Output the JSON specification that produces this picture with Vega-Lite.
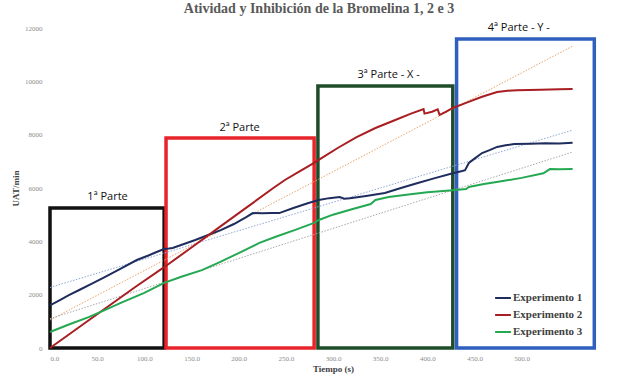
{
  "$schema": "https://vega.github.io/schema/vega-lite/v6.json",
  "autosize": "none",
  "width": 566,
  "height": 320,
  "padding": {"left": 50, "top": 28, "right": 13, "bottom": 36},
  "background": "white",
  "title": {
    "text": "Atividad y Inhibición de la Bromelina 1, 2 e 3",
    "font": "Liberation Serif",
    "fontSize": 14,
    "fontWeight": "bold",
    "color": "#595959",
    "anchor": "middle",
    "dx": -14,
    "offset": 6
  },
  "config": {
    "view": {"stroke": null},
    "axis": {"grid": false, "labelFont": "Liberation Serif", "labelColor": "#8c8c8c", "labelFontSize": 7, "titleFont": "Liberation Serif", "titleFontSize": 9, "titleFontWeight": "bold", "titleColor": "#404040", "ticks": false}
  },
  "datasets": {
    "series": [
      {"t": 0, "v": 1600, "s": "Experimento 1"}, {"t": 10, "v": 1790, "s": "Experimento 1"}, {"t": 20, "v": 1980, "s": "Experimento 1"}, {"t": 31, "v": 2175, "s": "Experimento 1"}, {"t": 45, "v": 2420, "s": "Experimento 1"}, {"t": 58, "v": 2660, "s": "Experimento 1"}, {"t": 75, "v": 2980, "s": "Experimento 1"}, {"t": 92, "v": 3300, "s": "Experimento 1"}, {"t": 105, "v": 3480, "s": "Experimento 1"}, {"t": 113, "v": 3600, "s": "Experimento 1"}, {"t": 121, "v": 3710, "s": "Experimento 1"}, {"t": 126, "v": 3730, "s": "Experimento 1"}, {"t": 130, "v": 3750, "s": "Experimento 1"}, {"t": 142, "v": 3900, "s": "Experimento 1"}, {"t": 154, "v": 4050, "s": "Experimento 1"}, {"t": 167, "v": 4230, "s": "Experimento 1"}, {"t": 181, "v": 4420, "s": "Experimento 1"}, {"t": 195, "v": 4650, "s": "Experimento 1"}, {"t": 208, "v": 4910, "s": "Experimento 1"}, {"t": 215, "v": 5060, "s": "Experimento 1"}, {"t": 225, "v": 5050, "s": "Experimento 1"}, {"t": 235, "v": 5060, "s": "Experimento 1"}, {"t": 243, "v": 5060, "s": "Experimento 1"}, {"t": 258, "v": 5250, "s": "Experimento 1"}, {"t": 274, "v": 5440, "s": "Experimento 1"}, {"t": 285, "v": 5550, "s": "Experimento 1"}, {"t": 296, "v": 5620, "s": "Experimento 1"}, {"t": 307, "v": 5660, "s": "Experimento 1"}, {"t": 312, "v": 5600, "s": "Experimento 1"}, {"t": 318, "v": 5620, "s": "Experimento 1"}, {"t": 335, "v": 5700, "s": "Experimento 1"}, {"t": 355, "v": 5810, "s": "Experimento 1"}, {"t": 372, "v": 6000, "s": "Experimento 1"}, {"t": 389, "v": 6180, "s": "Experimento 1"}, {"t": 408, "v": 6370, "s": "Experimento 1"}, {"t": 427, "v": 6550, "s": "Experimento 1"}, {"t": 437, "v": 6640, "s": "Experimento 1"}, {"t": 440, "v": 6670, "s": "Experimento 1"}, {"t": 444, "v": 6940, "s": "Experimento 1"}, {"t": 450, "v": 7100, "s": "Experimento 1"}, {"t": 458, "v": 7310, "s": "Experimento 1"}, {"t": 466, "v": 7420, "s": "Experimento 1"}, {"t": 474, "v": 7540, "s": "Experimento 1"}, {"t": 483, "v": 7600, "s": "Experimento 1"}, {"t": 492, "v": 7650, "s": "Experimento 1"}, {"t": 510, "v": 7660, "s": "Experimento 1"}, {"t": 525, "v": 7680, "s": "Experimento 1"}, {"t": 540, "v": 7670, "s": "Experimento 1"}, {"t": 554, "v": 7700, "s": "Experimento 1"},
      {"t": 0, "v": 0, "s": "Experimento 2"}, {"t": 30, "v": 760, "s": "Experimento 2"}, {"t": 60, "v": 1520, "s": "Experimento 2"}, {"t": 90, "v": 2280, "s": "Experimento 2"}, {"t": 121, "v": 3030, "s": "Experimento 2"}, {"t": 150, "v": 3770, "s": "Experimento 2"}, {"t": 180, "v": 4540, "s": "Experimento 2"}, {"t": 210, "v": 5310, "s": "Experimento 2"}, {"t": 236, "v": 5980, "s": "Experimento 2"}, {"t": 249, "v": 6300, "s": "Experimento 2"}, {"t": 265, "v": 6630, "s": "Experimento 2"}, {"t": 280, "v": 6940, "s": "Experimento 2"}, {"t": 287, "v": 7100, "s": "Experimento 2"}, {"t": 305, "v": 7500, "s": "Experimento 2"}, {"t": 325, "v": 7910, "s": "Experimento 2"}, {"t": 345, "v": 8250, "s": "Experimento 2"}, {"t": 366, "v": 8550, "s": "Experimento 2"}, {"t": 382, "v": 8780, "s": "Experimento 2"}, {"t": 396, "v": 8960, "s": "Experimento 2"}, {"t": 397, "v": 8790, "s": "Experimento 2"}, {"t": 405, "v": 8860, "s": "Experimento 2"}, {"t": 411, "v": 8950, "s": "Experimento 2"}, {"t": 413, "v": 8740, "s": "Experimento 2"}, {"t": 420, "v": 8860, "s": "Experimento 2"}, {"t": 427, "v": 9000, "s": "Experimento 2"}, {"t": 441, "v": 9190, "s": "Experimento 2"}, {"t": 458, "v": 9420, "s": "Experimento 2"}, {"t": 474, "v": 9600, "s": "Experimento 2"}, {"t": 485, "v": 9650, "s": "Experimento 2"}, {"t": 495, "v": 9670, "s": "Experimento 2"}, {"t": 520, "v": 9680, "s": "Experimento 2"}, {"t": 540, "v": 9700, "s": "Experimento 2"}, {"t": 554, "v": 9710, "s": "Experimento 2"},
      {"t": 0, "v": 600, "s": "Experimento 3"}, {"t": 20, "v": 880, "s": "Experimento 3"}, {"t": 41, "v": 1160, "s": "Experimento 3"}, {"t": 58, "v": 1420, "s": "Experimento 3"}, {"t": 75, "v": 1690, "s": "Experimento 3"}, {"t": 100, "v": 2070, "s": "Experimento 3"}, {"t": 121, "v": 2440, "s": "Experimento 3"}, {"t": 140, "v": 2680, "s": "Experimento 3"}, {"t": 161, "v": 2920, "s": "Experimento 3"}, {"t": 180, "v": 3220, "s": "Experimento 3"}, {"t": 200, "v": 3560, "s": "Experimento 3"}, {"t": 222, "v": 3940, "s": "Experimento 3"}, {"t": 240, "v": 4180, "s": "Experimento 3"}, {"t": 260, "v": 4430, "s": "Experimento 3"}, {"t": 280, "v": 4690, "s": "Experimento 3"}, {"t": 285, "v": 4800, "s": "Experimento 3"}, {"t": 300, "v": 5000, "s": "Experimento 3"}, {"t": 320, "v": 5200, "s": "Experimento 3"}, {"t": 340, "v": 5400, "s": "Experimento 3"}, {"t": 345, "v": 5550, "s": "Experimento 3"}, {"t": 359, "v": 5660, "s": "Experimento 3"}, {"t": 380, "v": 5760, "s": "Experimento 3"}, {"t": 400, "v": 5840, "s": "Experimento 3"}, {"t": 427, "v": 5920, "s": "Experimento 3"}, {"t": 441, "v": 5960, "s": "Experimento 3"}, {"t": 444, "v": 6040, "s": "Experimento 3"}, {"t": 460, "v": 6150, "s": "Experimento 3"}, {"t": 480, "v": 6260, "s": "Experimento 3"}, {"t": 500, "v": 6380, "s": "Experimento 3"}, {"t": 523, "v": 6550, "s": "Experimento 3"}, {"t": 530, "v": 6710, "s": "Experimento 3"}, {"t": 540, "v": 6700, "s": "Experimento 3"}, {"t": 554, "v": 6710, "s": "Experimento 3"}
    ],
    "trends": [
      {"t": 0, "v": 2270, "tr": "Lineal 1"}, {"t": 554, "v": 8170, "tr": "Lineal 1"},
      {"t": 0, "v": 1050, "tr": "Lineal 2"}, {"t": 554, "v": 11320, "tr": "Lineal 2"},
      {"t": 0, "v": 1100, "tr": "Lineal 3"}, {"t": 554, "v": 7350, "tr": "Lineal 3"}
    ],
    "boxes": [
      {"x1": 0, "x2": 121, "y1": 0, "y2": 5250, "parte": "1ª Parte", "lx": 61, "ly": 5650},
      {"x1": 123, "x2": 280, "y1": 0, "y2": 7875, "parte": "2ª Parte", "lx": 201, "ly": 8260},
      {"x1": 284, "x2": 427, "y1": 0, "y2": 9825, "parte": "3ª Parte  - X -", "lx": 359, "ly": 10240},
      {"x1": 431, "x2": 577, "y1": 0, "y2": 11590, "parte": "4ª Parte  - Y -", "lx": 497, "ly": 11990}
    ]
  },
  "layer": [
    {
      "data": {"name": "boxes"},
      "mark": {"type": "rect", "filled": false, "strokeWidth": 3.5},
      "encoding": {
        "x": {"field": "x1", "type": "quantitative", "scale": {"domain": [0, 580]}},
        "x2": {"field": "x2"},
        "y": {"field": "y1", "type": "quantitative", "scale": {"domain": [0, 12000]}},
        "y2": {"field": "y2"},
        "stroke": {"field": "parte", "type": "nominal", "legend": null, "scale": {"domain": ["1ª Parte", "2ª Parte", "3ª Parte  - X -", "4ª Parte  - Y -"], "range": ["#111111", "#e8242b", "#1f4d2a", "#2f5fbf"]}}
      }
    },
    {
      "data": {"name": "boxes"},
      "mark": {"type": "text", "font": "Open Sans", "fontSize": 11, "color": "#111111", "baseline": "middle"},
      "encoding": {
        "x": {"field": "lx", "type": "quantitative"},
        "y": {"field": "ly", "type": "quantitative"},
        "text": {"field": "parte"}
      }
    },
    {
      "data": {"name": "trends"},
      "mark": {"type": "line", "strokeWidth": 1, "strokeDash": [1.5, 1.5]},
      "encoding": {
        "x": {"field": "t", "type": "quantitative"},
        "y": {"field": "v", "type": "quantitative"},
        "detail": {"field": "tr"},
        "color": {"field": "tr", "type": "nominal", "legend": null, "scale": {"domain": ["Lineal 1", "Lineal 2", "Lineal 3"], "range": ["#8fa9d6", "#e9a468", "#a8a8a8"]}}
      }
    },
    {
      "data": {"name": "series"},
      "mark": {"type": "line", "strokeWidth": 2},
      "encoding": {
        "x": {"field": "t", "type": "quantitative", "title": "Tiempo (s)", "scale": {"domain": [0, 580]}, "axis": {"values": [0, 50, 100, 150, 200, 250, 300, 350, 400, 450, 500], "format": ".1f", "domain": false, "labelPadding": 6, "titlePadding": 3}},
        "y": {"field": "v", "type": "quantitative", "title": "UAT/min", "scale": {"domain": [0, 12000]}, "axis": {"values": [0, 2000, 4000, 6000, 8000, 10000, 12000], "format": "d", "domain": false, "labelPadding": 8, "titlePadding": 4}},
        "color": {"field": "s", "type": "nominal", "title": null, "scale": {"domain": ["Experimento 1", "Experimento 2", "Experimento 3"], "range": ["#1f2d5e", "#a81e22", "#25a852"]},
          "legend": {"orient": "none", "legendX": 444, "legendY": 261, "symbolType": "stroke", "symbolSize": 250, "symbolStrokeWidth": 2, "labelFont": "Liberation Serif", "labelFontSize": 11, "labelFontWeight": "bold", "labelColor": "#404040", "rowPadding": 3, "labelOffset": 1}}
      }
    }
  ],
  "resolve": {"scale": {"color": "independent", "stroke": "independent"}}
}
